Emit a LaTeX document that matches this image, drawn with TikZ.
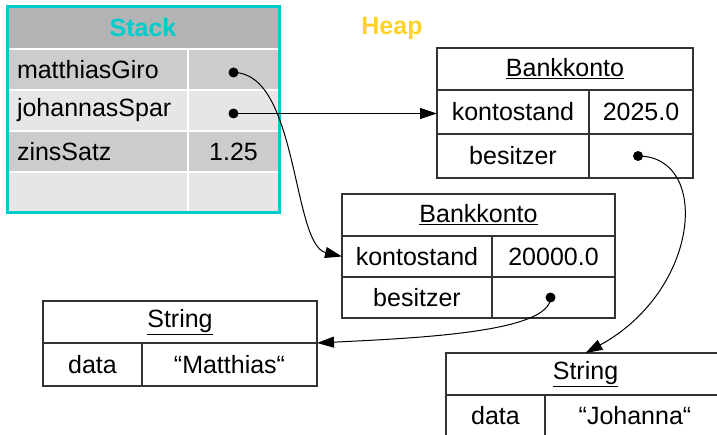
\documentclass[tikz,border=0pt]{standalone}
\usepackage{fontspec}
\setmainfont{Liberation Sans}
\usepackage{tikz}
\usetikzlibrary{arrows.meta}
\definecolor{stackcyan}{RGB}{0,204,204}
\definecolor{heapgold}{RGB}{255,210,40}
\definecolor{stackhead}{RGB}{179,179,179}
\definecolor{rowdark}{RGB}{204,204,204}
\definecolor{rowlight}{RGB}{230,230,230}

\begin{document}
\begin{tikzpicture}[x=1pt,y=-1pt,font=\fontsize{25}{30}\selectfont,
    >={Triangle[length=17pt,width=11pt]}]
    \tikzstyle{stack cell}=[draw=white, line width=1.5pt, inner sep=0pt, outer sep=0pt, anchor=north west]
    \tikzstyle{heap cell}=[draw=black!80, line width=1.2pt, inner sep=0pt, outer sep=0pt, anchor=north west]
    \tikzstyle{dot}=[circle, fill=black, minimum size=10pt, inner sep=0pt]
    \tikzstyle{ref}=[->, line width=1pt]
    \tikzstyle{title}=[font=\fontsize{25}{30}\selectfont\bfseries]

    \useasboundingbox (0,0) rectangle (717,435);

    % Draw the stack
    \node[stack cell, title, fill=stackhead, text=stackcyan, minimum width=272pt, minimum height=42pt] (St-0) at (7,7) {Stack};
    \foreach \txt/\val/\shade [count=\i] in {matthiasGiro//rowdark, johannasSpar//rowlight, zinsSatz/1.25/rowdark, //rowlight}
    {
        \node[stack cell, fill=\shade, minimum height=41pt, text width=161pt, align=left, inner xsep=10pt] (St-\i-a) at (7,8+41*\i) {\txt};
        \node[stack cell, fill=\shade, minimum width=91pt, minimum height=41pt] (St-\i-b) at (St-\i-a.north east) {\val};
    }
    \draw[stackcyan, line width=3pt] (St-0.north west) rectangle (St-4-b.south east);

    % Draw the heap
    \node[title, text=heapgold] (heap) at (392,28) {Heap};

    \foreach \name/\x/\y/\wa/\wb/\h/\val in {K1/437/48/152/104/44/2025.0, K2/342/194/150/123/41/20000.0}
    {
        \node[heap cell, minimum width=\wa pt+\wb pt, minimum height=42pt] (\name-head) at (\x,\y) {\underline{Bankkonto}};
        \node[heap cell, minimum width=\wa pt, minimum height=\h pt] (\name-k) at (\name-head.south west) {kontostand};
        \node[heap cell, minimum width=\wb pt, minimum height=\h pt] (\name-kv) at (\name-k.north east) {\val};
        \node[heap cell, minimum width=\wa pt, minimum height=\h pt] (\name-b) at (\name-k.south west) {besitzer};
        \node[heap cell, minimum width=\wb pt, minimum height=\h pt] (\name-bv) at (\name-b.north east) {};
    }

    \foreach \name/\x/\y/\wa/\wb/\h/\val in {S1/43/301/99/175/43/“Matthias“, S2/446/353/99/180/42/“Johanna“}
    {
        \node[heap cell, minimum width=\wa pt+\wb pt, minimum height=42pt] (\name-head) at (\x,\y) {\underline{String}};
        \node[heap cell, minimum width=\wa pt, minimum height=\h pt] (\name-d) at (\name-head.south west) {data};
        \node[heap cell, minimum width=\wb pt, minimum height=\h pt] (\name-dv) at (\name-d.north east) {\val};
    }

    % References
    \node[dot] (giro) at ([yshift=-3pt]St-1-b.center) {};
    \node[dot] (spar) at ([yshift=-3pt]St-2-b.center) {};
    \node[dot] (K1-ref) at ([xshift=-3pt]K1-bv.center) {};
    \node[dot] (K2-ref) at ([xshift=-3pt]K2-bv.center) {};

    \draw[ref] (giro.center) .. controls +(65,0) and +(-50,-12) .. (K2-k.west);
    \draw[ref] (spar.center) -- (spar.center -| K1-k.west);
    \draw[ref] (K1-ref.center) .. controls +(73,0) and +(115,-63) .. (S2-head.north);
    \draw[ref] (K2-ref.center) .. controls +(0,35) and +(100,-5) .. (S1-head.south east);
\end{tikzpicture}
\end{document}
